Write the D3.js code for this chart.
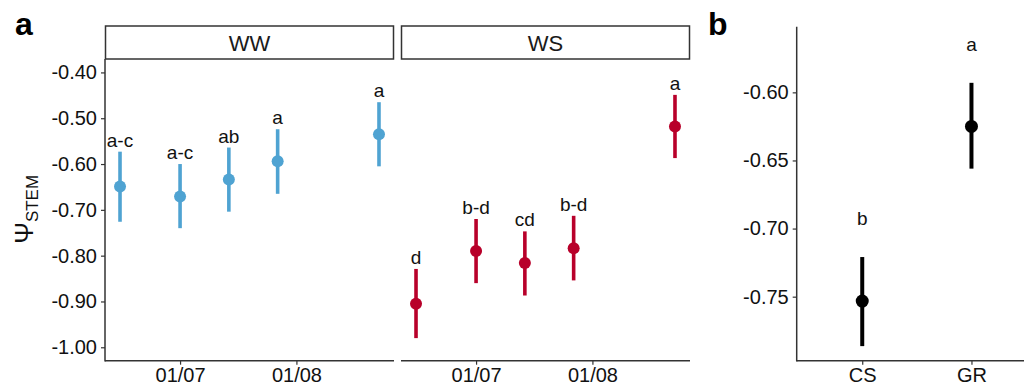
<!DOCTYPE html>
<html>
<head>
<meta charset="utf-8">
<script src="https://cdn.jsdelivr.net/npm/d3@7"></script>
<style>
body { margin: 0; background: #fff; }
svg { font-family: "Liberation Sans", Arial, sans-serif; }
</style>
</head>
<body>
<svg id="chart" width="1024" height="391"></svg>
<script>
// panel a data: stem water potential by date
var dates = ['2019-06-15', '2019-07-01', '2019-07-14', '2019-07-27', '2019-08-23'];
var wwMean = [-0.649, -0.671, -0.634, -0.594, -0.535];
var wwLow = [-0.726, -0.740, -0.704, -0.665, -0.605];
var wwHigh = [-0.573, -0.600, -0.564, -0.524, -0.465];
var wwLetters = ['a-c', 'a-c', 'ab', 'a', 'a'];
var wsMean = [-0.905, -0.790, -0.816, -0.784, -0.518];
var wsLow = [-0.980, -0.860, -0.887, -0.854, -0.587];
var wsHigh = [-0.829, -0.720, -0.747, -0.713, -0.449];
var wsLetters = ['d', 'b-d', 'cd', 'b-d', 'a'];
var facets = ['WW', 'WS'];
var yTicksA = [-0.40, -0.50, -0.60, -0.70, -0.80, -0.90, -1.00];
var xTickDates = ['2019-07-01', '2019-08-01'];

// panel b data
var groups = ['CS', 'GR'];
var bMean = [-0.7532, -0.625];
var bLow = [-0.7863, -0.656];
var bHigh = [-0.7209, -0.593];
var bLetters = ['b', 'a'];
var yTicksB = [-0.60, -0.65, -0.70, -0.75];

var blue = '#4fa3d2';
var red = '#b8002a';
var axisCol = '#333333';

var svg = d3.select('#chart');
var parse = d3.timeParse('%Y-%m-%d');
// plain hyphen for negatives, like the original
var fmt2 = d3.formatLocale({ decimal: '.', thousands: ',', grouping: [3], currency: ['', ''], minus: '-' }).format('.2f');

var plotTop = 59, plotBottom = 360.7;
var facetW = 289, facetGap = 7, leftA = 105;

var y = d3.scaleLinear().domain([-1.0293, -0.3707]).range([plotBottom, plotTop]);
var x = d3.scaleTime()
	.domain([parse('2019-06-11'), parse('2019-08-27')])
	.range([0, facetW]);

function styleAxis(g) {
	g.select('.domain').remove();
	g.selectAll('.tick line').attr('stroke', axisCol).attr('stroke-width', 1.2);
	g.selectAll('.tick text').attr('fill', '#111').style('font-size', '20px');
}

// y axis for panel a
var gy = svg.append('g')
	.attr('transform', 'translate(' + leftA + ',0)')
	.call(d3.axisLeft(y).tickValues(yTicksA).tickFormat(fmt2).tickSize(4).tickPadding(4));
styleAxis(gy);
svg.append('line')
	.attr('x1', leftA).attr('x2', leftA)
	.attr('y1', plotTop).attr('y2', plotBottom + 0.7)
	.attr('stroke', axisCol).attr('stroke-width', 1.5);

// y axis title
var title = svg.append('text')
	.attr('transform', 'translate(33,' + ((plotTop + plotBottom) / 2 + 34) + ') rotate(-90)')
	.attr('fill', '#111')
	.style('font-size', '26px');
title.append('tspan').text('Ψ');
title.append('tspan').attr('dy', 5).style('font-size', '17px').text('STEM');

var facetData = [
	{ mean: wwMean, low: wwLow, high: wwHigh, letters: wwLetters, color: blue },
	{ mean: wsMean, low: wsLow, high: wsHigh, letters: wsLetters, color: red }
];

facets.forEach(function (name, i) {
	var x0 = leftA + i * (facetW + facetGap);
	var g = svg.append('g').attr('transform', 'translate(' + x0 + ',0)');

	// strip
	g.append('rect')
		.attr('x', 0.5).attr('y', 26)
		.attr('width', facetW - 1).attr('height', 33)
		.attr('fill', '#fff').attr('stroke', axisCol).attr('stroke-width', 1.5);
	g.append('text')
		.attr('x', facetW / 2).attr('y', 50.5)
		.attr('text-anchor', 'middle')
		.attr('fill', '#1a1a1a')
		.style('font-size', '22px')
		.text(name);

	// x axis
	var gx = g.append('g')
		.attr('transform', 'translate(0,' + plotBottom + ')')
		.call(d3.axisBottom(x).tickValues(xTickDates.map(parse)).tickFormat(d3.timeFormat('%d/%m')).tickSize(4).tickPadding(3.5));
	styleAxis(gx);
	g.append('line')
		.attr('x1', 0).attr('x2', facetW)
		.attr('y1', plotBottom).attr('y2', plotBottom)
		.attr('stroke', axisCol).attr('stroke-width', 1.5);

	var d = facetData[i];
	var pts = dates.map(function (dt, j) {
		return { date: parse(dt), mean: d.mean[j], low: d.low[j], high: d.high[j], letter: d.letters[j] };
	});

	g.selectAll('line.err').data(pts).enter().append('line')
		.attr('class', 'err')
		.attr('x1', function (p) { return x(p.date); })
		.attr('x2', function (p) { return x(p.date); })
		.attr('y1', function (p) { return y(p.low); })
		.attr('y2', function (p) { return y(p.high); })
		.attr('stroke', d.color).attr('stroke-width', 3.6);
	g.selectAll('circle').data(pts).enter().append('circle')
		.attr('cx', function (p) { return x(p.date); })
		.attr('cy', function (p) { return y(p.mean); })
		.attr('r', 6)
		.attr('fill', d.color);
	g.selectAll('text.lab').data(pts).enter().append('text')
		.attr('class', 'lab')
		.attr('x', function (p) { return x(p.date); })
		.attr('y', function (p) { return y(p.high) - 5; })
		.attr('text-anchor', 'middle')
		.attr('fill', '#111')
		.style('font-size', '19px')
		.text(function (p) { return p.letter; });
});

// panel b
var leftB = 796.7, topB = 26.7, rightB = 1037;
var yB = d3.scaleLinear().domain([-0.797, -0.5518]).range([plotBottom, topB]);
var xB = d3.scalePoint().domain(groups).range([leftB, rightB]).padding(0.6);

var gyB = svg.append('g')
	.attr('transform', 'translate(' + leftB + ',0)')
	.call(d3.axisLeft(yB).tickValues(yTicksB).tickFormat(fmt2).tickSize(4).tickPadding(4));
styleAxis(gyB);
var gxB = svg.append('g')
	.attr('transform', 'translate(0,' + plotBottom + ')')
	.call(d3.axisBottom(xB).tickSize(4).tickPadding(3.5));
styleAxis(gxB);
svg.append('line')
	.attr('x1', leftB).attr('x2', leftB)
	.attr('y1', topB).attr('y2', plotBottom + 0.7)
	.attr('stroke', axisCol).attr('stroke-width', 1.5);
svg.append('line')
	.attr('x1', leftB).attr('x2', 1024)
	.attr('y1', plotBottom).attr('y2', plotBottom)
	.attr('stroke', axisCol).attr('stroke-width', 1.5);

var bPts = groups.map(function (gname, j) {
	return { g: gname, mean: bMean[j], low: bLow[j], high: bHigh[j], letter: bLetters[j] };
});
svg.selectAll('line.errb').data(bPts).enter().append('line')
	.attr('class', 'errb')
	.attr('x1', function (p) { return xB(p.g); })
	.attr('x2', function (p) { return xB(p.g); })
	.attr('y1', function (p) { return yB(p.low); })
	.attr('y2', function (p) { return yB(p.high); })
	.attr('stroke', '#000').attr('stroke-width', 4);
svg.selectAll('circle.ptb').data(bPts).enter().append('circle')
	.attr('class', 'ptb')
	.attr('cx', function (p) { return xB(p.g); })
	.attr('cy', function (p) { return yB(p.mean); })
	.attr('r', 6.5)
	.attr('fill', '#000');
svg.selectAll('text.labb').data(bPts).enter().append('text')
	.attr('class', 'labb')
	.attr('x', function (p) { return xB(p.g); })
	.attr('y', function (p) { return yB(p.high) - 32; })
	.attr('text-anchor', 'middle')
	.attr('fill', '#111')
	.style('font-size', '19px')
	.text(function (p) { return p.letter; });

// panel tags
svg.append('text').attr('x', 15).attr('y', 35)
	.style('font-size', '32px').style('font-weight', 'bold').text('a');
svg.append('text').attr('x', 708).attr('y', 35)
	.style('font-size', '32px').style('font-weight', 'bold').text('b');
</script>
</body>
</html>
